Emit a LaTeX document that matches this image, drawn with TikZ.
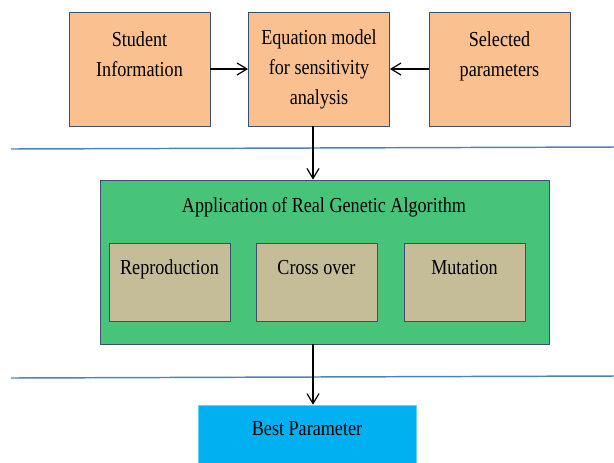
\documentclass[tikz,border=0pt]{standalone}
\usepackage{fontspec}
\setmainfont[FakeStretch=0.85]{Liberation Serif}
\usetikzlibrary{arrows.meta,positioning,calc}

\definecolor{peach}{HTML}{FAC090}
\definecolor{gagreen}{HTML}{48C37A}
\definecolor{tan}{HTML}{C4BD97}
\definecolor{skyblue}{HTML}{00B0F0}
\definecolor{rule}{HTML}{4F81BD}
\definecolor{edge}{HTML}{3A4F6E}

\begin{document}
\begin{tikzpicture}[x=0.75pt, y=-0.75pt, line join=round,
  every node/.style={font=\fontsize{16}{22.5}\selectfont, align=center},
  inbox/.style={draw=edge, line width=0.6pt, fill=peach, minimum width=105.75pt, minimum height=85.5pt, inner sep=0pt},
  gabox/.style={draw=edge, line width=0.6pt, fill=gagreen, minimum width=336.75pt, minimum height=123pt, inner sep=0pt},
  opbox/.style={draw=edge, line width=0.6pt, fill=tan, minimum width=90.75pt, minimum height=58.5pt, inner sep=0pt},
  outbox/.style={draw=skyblue!60!white, line width=0.4pt, fill=skyblue, minimum width=163.5pt, minimum height=52.5pt, inner sep=0pt},
  flow/.style={line width=0.9pt, -{Straight Barb[length=7.5pt,width=9pt]}},
  sep/.style={rule, line width=1.1pt}]
\useasboundingbox (0,0) rectangle (614,462);
\clip (0,0) rectangle (614,462);
% inputs
\node[inbox] (stu) at (139.5,69) {Student\\Information\\\mbox{}};
\node[inbox] (eq)  at (319,69)   {Equation model\\for sensitivity\\analysis};
\node[inbox] (sel) at (499.5,69) {Selected\\parameters\\\mbox{}};
\draw[flow] (stu) -- (eq);
\draw[flow] (sel) -- (eq);
% separators
\draw[sep] (11,149) -- (614,147);
\draw[sep] (11,378) -- (614,376);
% genetic algorithm
\node[gabox] (ga) at (324.5,262) {};
\node (gatitle) at (324,207) {Application of Real Genetic Algorithm};
\node[opbox] (rep) at (169.5,282) {Reproduction\\\mbox{}};
\node[opbox] (cro) at (316.5,282) {Cross over\\\mbox{}};
\node[opbox] (mut) at (464.5,282) {Mutation\\\mbox{}};
% output
\node[outbox] (best) at (307,440) {};
\node (bestlbl) at (307,429) {Best Parameter};
\coordinate (spine) at (313,0);
\draw[flow] (eq.south -| spine) -- (ga.north -| spine);
\draw[flow] (ga.south -| spine) -- (best.north -| spine);
\end{tikzpicture}
\end{document}
